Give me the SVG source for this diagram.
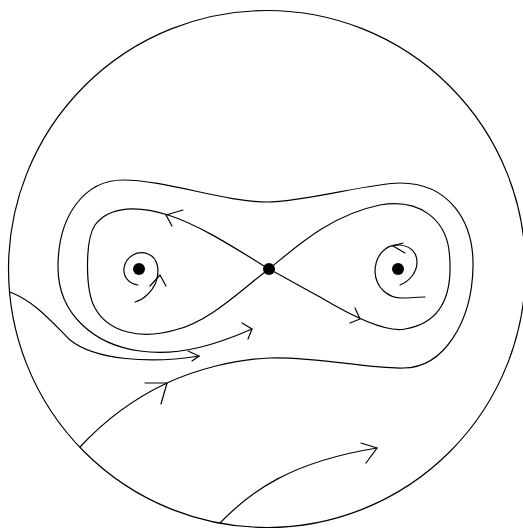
<svg xmlns="http://www.w3.org/2000/svg" width="523" height="529" viewBox="0 0 523 529">
<style>
.c{fill:none;stroke:#000;stroke-width:1.2;stroke-linecap:round;stroke-linejoin:round}
.ah{fill:none;stroke:#000;stroke-width:1.2;stroke-linecap:round;stroke-linejoin:miter}
.pt{fill:#000;stroke:none}
</style>
<rect width="523" height="529" fill="#fff"/>
<g id="boundary">
<circle class="c" cx="267" cy="269" r="258.5"/>
</g>
<g id="connectors">
<path id="left-lobe" class="c" d="M269,269 C238,250 200,225 168,215 C140,206 110,205 95,225 C85,240 85,290 95,308 C108,332 140,340 175,330 C210,322 243,288 269,269"/>
<polyline class="ah" points="183,210 166,215 172,226"/>
<path id="right-lobe" class="c" d="M269,269 C295,248 330,215 380,205 C420,198 445,220 449,250 C453,285 448,322 405,329 C385,333 350,315 320,297 C303,288 286,278 269,269"/>
<polyline class="ah" points="355,308 360,319 350,323"/>
<path id="outer-trajectory" class="c" d="M80,447 C105,420 135,398 167,383 C195,370 235,359 270,358 C320,357 370,369 403,368 C445,368 472,320 473,267 C474,220 448,183 400,183 C370,183 305,202 267,202 C225,202 165,180 123,180 C85,180 58,215 58,267 C58,315 95,345 140,351 C180,357 220,343 252,329"/>
<polyline class="ah" points="145,383 167,383 161,404"/>
<polyline class="ah" points="242,323 252,329 248,339"/>
<path id="left-boundary-trajectory" class="c" d="M10,292 C35,302 50,320 70,340 C95,360 150,364 199,356"/>
<polyline class="ah" points="188,351 199,356 192,361"/>
<path id="bottom-boundary-trajectory" class="c" d="M220,523 C250,492 290,462 377,448"/>
<polyline class="ah" points="361,443 377,448 366,463"/>
<path id="left-spiral" class="c" d="M135,302 C143,300 152,292 156,282 C160,270 158,258 148,254 C138,250 126,256 124,268 C123,278 130,284 138,285"/>
<polyline class="ah" points="150,286 160,275 166,286"/>
<path id="right-spiral" class="c" d="M400,285 C410,281 417,272 417,262 C417,252 410,246 400,245 C385,244 375,256 375,272 C376,288 388,298 402,298 C410,298 418,297 425,297"/>
<polyline class="ah" points="403,243 393,246 405,253"/>
</g>
<g id="focus-left"><circle class="pt" cx="139" cy="269" r="6"/></g>
<g id="saddle"><circle class="pt" cx="269" cy="269" r="6"/></g>
<g id="focus-right"><circle class="pt" cx="398" cy="269" r="6"/></g>
</svg>
